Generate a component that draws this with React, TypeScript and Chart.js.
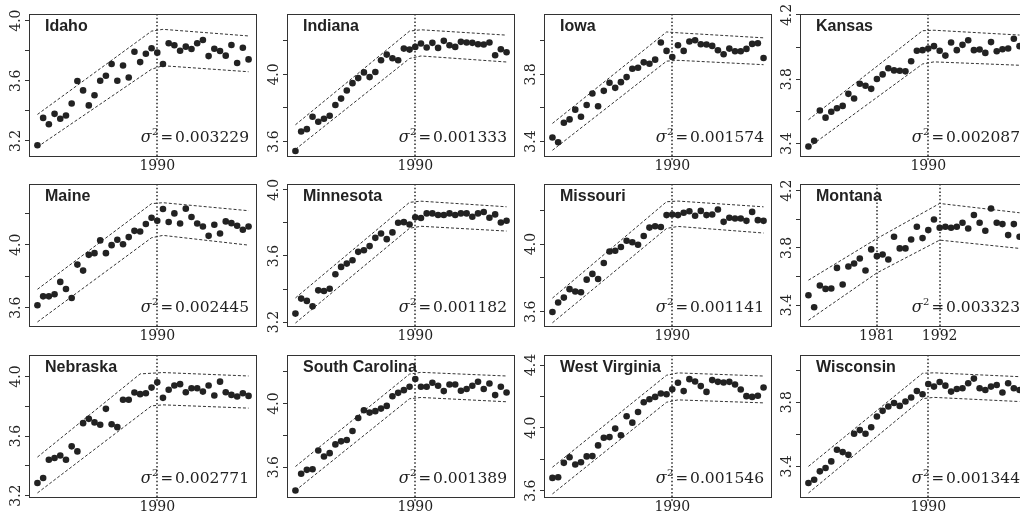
import React, { useEffect, useRef } from 'react';
import { Chart, registerables } from 'chart.js';

Chart.register(...registerables);

const YEARS = [1969, 1970, 1971, 1972, 1973, 1974, 1975, 1976, 1977, 1978, 1979, 1980, 1981, 1982, 1983, 1984, 1985, 1986, 1987, 1988, 1989, 1990, 1991, 1992, 1993, 1994, 1995, 1996, 1997, 1998, 1999, 2000, 2001, 2002, 2003, 2004, 2005, 2006];

const STATE_NAMES = ['Idaho', 'Indiana', 'Iowa', 'Kansas', 'Maine', 'Minnesota', 'Missouri', 'Montana', 'Nebraska', 'South Carolina', 'West Virginia', 'Wisconsin'];
const SIGMA2_LABELS = ['0.003229', '0.001333', '0.001574', '0.002087', '0.002445', '0.001182', '0.001141', '0.003323', '0.002771', '0.001389', '0.001546', '0.001344'];
const BREAK_YEARS = [[1990], [1990], [1990], [1990], [1990], [1990], [1990], [1981, 1992], [1990], [1990], [1990], [1990]];

const IDAHO = [3.171, 3.353, 3.311, 3.380, 3.347, 3.369, 3.449, 3.598, 3.536, 3.436, 3.504, 3.600, 3.633, 3.711, 3.600, 3.702, 3.622, 3.793, 3.724, 3.780, 3.816, 3.787, 3.711, 3.849, 3.836, 3.800, 3.827, 3.811, 3.849, 3.871, 3.764, 3.813, 3.798, 3.767, 3.838, 3.718, 3.820, 3.742];
const INDIANA = [3.544, 3.660, 3.674, 3.748, 3.718, 3.736, 3.754, 3.818, 3.856, 3.904, 3.948, 3.978, 4.012, 3.984, 4.014, 4.084, 4.118, 4.096, 4.084, 4.154, 4.148, 4.164, 4.184, 4.160, 4.188, 4.158, 4.200, 4.174, 4.164, 4.194, 4.190, 4.188, 4.180, 4.178, 4.190, 4.114, 4.150, 4.132];
const IOWA = [3.424, 3.396, 3.512, 3.532, 3.590, 3.548, 3.618, 3.686, 3.610, 3.702, 3.750, 3.720, 3.754, 3.784, 3.834, 3.840, 3.872, 3.864, 3.888, 3.990, 3.940, 3.904, 3.974, 3.940, 3.996, 4.004, 3.980, 3.978, 3.970, 3.944, 3.920, 3.954, 3.938, 3.938, 3.952, 3.982, 3.986, 3.898];
const KANSAS = [3.381, 3.417, 3.605, 3.561, 3.598, 3.619, 3.634, 3.709, 3.680, 3.772, 3.759, 3.740, 3.801, 3.830, 3.868, 3.855, 3.853, 3.849, 3.912, 3.977, 3.981, 3.991, 4.006, 3.977, 3.947, 4.029, 3.981, 4.014, 4.043, 3.981, 3.985, 3.964, 4.031, 3.974, 3.987, 3.991, 4.052, 4.006];
const MAINE = [3.615, 3.672, 3.672, 3.685, 3.764, 3.719, 3.662, 3.874, 3.836, 3.936, 3.947, 4.028, 3.947, 3.998, 4.032, 4.004, 4.049, 4.089, 4.085, 4.132, 4.172, 4.153, 4.228, 4.145, 4.200, 4.136, 4.230, 4.177, 4.136, 4.117, 4.057, 4.128, 4.072, 4.149, 4.138, 4.121, 4.096, 4.117];
const MINNESOTA = [3.251, 3.342, 3.328, 3.295, 3.392, 3.388, 3.402, 3.489, 3.534, 3.554, 3.574, 3.625, 3.635, 3.660, 3.710, 3.736, 3.702, 3.743, 3.801, 3.805, 3.791, 3.834, 3.830, 3.858, 3.858, 3.848, 3.848, 3.858, 3.848, 3.858, 3.858, 3.838, 3.858, 3.866, 3.832, 3.852, 3.803, 3.813];
const MISSOURI = [3.598, 3.654, 3.683, 3.733, 3.719, 3.715, 3.789, 3.823, 3.793, 3.888, 3.956, 3.960, 3.982, 4.019, 4.010, 3.996, 4.047, 4.097, 4.105, 4.101, 4.171, 4.175, 4.171, 4.185, 4.194, 4.167, 4.196, 4.171, 4.175, 4.204, 4.131, 4.155, 4.151, 4.151, 4.137, 4.190, 4.141, 4.137];
const MONTANA = [3.470, 3.386, 3.538, 3.514, 3.517, 3.661, 3.545, 3.671, 3.692, 3.727, 3.643, 3.790, 3.743, 3.755, 3.720, 3.878, 3.797, 3.797, 3.859, 3.948, 3.869, 3.925, 3.999, 3.941, 3.948, 3.941, 3.948, 3.976, 3.936, 4.030, 3.976, 3.920, 4.076, 3.976, 3.967, 3.890, 3.967, 3.878];
const NEBRASKA = [3.285, 3.318, 3.441, 3.453, 3.470, 3.441, 3.531, 3.497, 3.687, 3.716, 3.692, 3.676, 3.783, 3.680, 3.660, 3.844, 3.844, 3.893, 3.882, 3.888, 3.926, 3.962, 3.857, 3.911, 3.940, 3.949, 3.895, 3.922, 3.922, 3.899, 3.940, 3.873, 3.966, 3.895, 3.877, 3.866, 3.888, 3.870];
const SOUTH_CAROLINA = [3.453, 3.558, 3.583, 3.587, 3.705, 3.667, 3.688, 3.743, 3.762, 3.771, 3.827, 3.909, 3.958, 3.943, 3.952, 3.968, 3.985, 4.046, 4.067, 4.084, 4.105, 4.154, 4.105, 4.105, 4.131, 4.112, 4.078, 4.120, 4.120, 4.080, 4.091, 4.112, 4.137, 4.091, 4.126, 4.053, 4.105, 4.069];
const WEST_VIRGINIA = [3.681, 3.685, 3.777, 3.813, 3.766, 3.781, 3.818, 3.820, 3.888, 3.937, 3.941, 3.995, 3.952, 4.074, 4.033, 4.101, 4.163, 4.182, 4.197, 4.219, 4.214, 4.246, 4.287, 4.234, 4.310, 4.295, 4.266, 4.229, 4.304, 4.293, 4.289, 4.293, 4.276, 4.244, 4.202, 4.197, 4.204, 4.257];
const WISCONSIN = [3.296, 3.317, 3.369, 3.390, 3.431, 3.504, 3.489, 3.472, 3.603, 3.626, 3.603, 3.644, 3.711, 3.746, 3.773, 3.795, 3.777, 3.804, 3.829, 3.870, 3.849, 3.913, 3.897, 3.926, 3.903, 3.866, 3.882, 3.887, 3.918, 3.947, 3.887, 3.876, 3.897, 3.907, 3.860, 3.918, 3.887, 3.876];

const SERIES = [IDAHO, INDIANA, IOWA, KANSAS, MAINE, MINNESOTA, MISSOURI, MONTANA, NEBRASKA, SOUTH_CAROLINA, WEST_VIRGINIA, WISCONSIN];

// band lines: [year, value] pairs
const UPPER_BANDS = [
  [[1969, 3.376], [1989, 3.930], [1991, 3.942], [2006, 3.898]],
  [[1969, 3.700], [1989, 4.258], [1991, 4.266], [2006, 4.234]],
  [[1969, 3.508], [1989, 4.053], [1991, 4.048], [2006, 4.018]],
  [[1969, 3.548], [1989, 4.102], [1991, 4.105], [2006, 4.075]],
  [[1969, 3.717], [1989, 4.262], [1991, 4.268], [2006, 4.217]],
  [[1969, 3.346], [1989, 3.925], [1991, 3.932], [2006, 3.898]],
  [[1969, 3.680], [1989, 4.250], [1991, 4.254], [2006, 4.220]],
  [[1969, 3.575], [1981, 3.866], [1992, 4.111], [2006, 4.046]],
  [[1969, 3.459], [1987, 4.018], [1991, 4.027], [2006, 4.004]],
  [[1969, 3.604], [1989, 4.185], [1991, 4.196], [2006, 4.173]],
  [[1969, 3.749], [1989, 4.335], [1991, 4.350], [2006, 4.330]],
  [[1969, 3.400], [1989, 3.980], [1991, 3.983], [2006, 3.959]],
];
const LOWER_BANDS = [
  [[1969, 3.160], [1989, 3.677], [1991, 3.700], [2006, 3.660]],
  [[1969, 3.554], [1989, 4.095], [1991, 4.110], [2006, 4.074]],
  [[1969, 3.348], [1989, 3.879], [1991, 3.884], [2006, 3.858]],
  [[1969, 3.375], [1989, 3.895], [1991, 3.908], [2006, 3.887]],
  [[1969, 3.509], [1989, 4.045], [1991, 4.060], [2006, 3.998]],
  [[1969, 3.194], [1989, 3.768], [1991, 3.780], [2006, 3.751]],
  [[1969, 3.534], [1989, 4.092], [1991, 4.104], [2006, 4.065]],
  [[1969, 3.295], [1981, 3.626], [1992, 3.855], [2006, 3.797]],
  [[1969, 3.218], [1989, 3.803], [1991, 3.810], [2006, 3.788]],
  [[1969, 3.453], [1989, 4.030], [1991, 4.038], [2006, 4.011]],
  [[1969, 3.579], [1989, 4.163], [1991, 4.178], [2006, 4.159]],
  [[1969, 3.234], [1989, 3.822], [1991, 3.830], [2006, 3.804]],
];

const Y_RANGES = [
  [3.093, 4.044], [3.508, 4.360], [3.308, 4.160], [3.316, 4.206],
  [3.477, 4.387], [3.170, 4.036], [3.509, 4.355], [3.248, 4.247],
  [3.184, 4.145], [3.406, 4.305], [3.553, 4.464], [3.203, 4.094],
];
const Y_TICKS = [
  [3.2, 3.4, 3.6, 3.8, 4.0], [3.6, 3.8, 4.0, 4.2], [3.4, 3.6, 3.8, 4.0], [3.4, 3.6, 3.8, 4.0, 4.2],
  [3.6, 3.8, 4.0, 4.2], [3.2, 3.4, 3.6, 3.8, 4.0], [3.6, 3.8, 4.0, 4.2], [3.4, 3.6, 3.8, 4.0, 4.2],
  [3.2, 3.4, 3.6, 3.8, 4.0], [3.6, 3.8, 4.0, 4.2], [3.6, 3.8, 4.0, 4.2, 4.4], [3.4, 3.6, 3.8, 4.0],
];
const Y_TICK_LABELS = [
  ['3.2', '', '3.6', '', '4.0'], ['3.6', '', '4.0', ''], ['3.4', '', '3.8', ''], ['3.4', '', '3.8', '', '4.2'],
  ['3.6', '', '4.0', ''], ['3.2', '', '3.6', '', '4.0'], ['3.6', '', '4.0', ''], ['3.4', '', '3.8', '', '4.2'],
  ['3.2', '', '3.6', '', '4.0'], ['3.6', '', '4.0', ''], ['3.6', '', '4.0', '', '4.4'], ['3.4', '', '3.8', ''],
];
const X_RANGE = [1967.52, 2007.48];

// layout (pixels)
const PLOT_LEFT = [29, 287, 544, 800];
const PLOT_TOP = [14, 184, 355];
const PLOT_W = 229;
const PLOT_H = 143;
const M_LEFT = 29;
const M_TOP = 14;
const M_RIGHT = 3;
const M_BOTTOM = 22;

const INK = '#222222';
const SERIF = '"DejaVu Serif", serif';
const SANS = '"Liberation Sans", Arial, sans-serif';

function Panel({ idx }: { idx: number }) {
  const ref = useRef<HTMLCanvasElement | null>(null);
  const col = idx % 4;
  const row = Math.floor(idx / 4);
  const cw = M_LEFT + PLOT_W + M_RIGHT;
  const ch = M_TOP + PLOT_H + M_BOTTOM;

  useEffect(() => {
    const canvas = ref.current;
    if (!canvas) return;
    const values = SERIES[idx];
    const pts = YEARS.map((y, i) => ({ x: y, y: values[i] }));
    const up = UPPER_BANDS[idx].map(([x, y]) => ({ x, y }));
    const lo = LOWER_BANDS[idx].map(([x, y]) => ({ x, y }));
    const breaks = BREAK_YEARS[idx];
    const yTicks = Y_TICKS[idx];
    const yLabels = Y_TICK_LABELS[idx];

    const decor = {
      id: 'decor' + idx,
      beforeDatasetsDraw(chart: any) {
        const { ctx, chartArea } = chart;
        const xs = chart.scales.x;
        ctx.save();
        ctx.strokeStyle = '#2a2a2a';
        ctx.lineWidth = 1.5;
        ctx.setLineDash([1.5, 2.2]);
        breaks.forEach((b) => {
          const px = Math.round(xs.getPixelForValue(b));
          ctx.beginPath();
          ctx.moveTo(px, chartArea.top);
          ctx.lineTo(px, chartArea.bottom + 5);
          ctx.stroke();
        });
        ctx.restore();
      },
      afterDraw(chart: any) {
        const { ctx, chartArea } = chart;
        const ys = chart.scales.y;
        ctx.save();
        // frame
        ctx.strokeStyle = '#333';
        ctx.lineWidth = 1;
        ctx.setLineDash([]);
        ctx.strokeRect(chartArea.left + 0.5, chartArea.top + 0.5, chartArea.right - chartArea.left - 1, chartArea.bottom - chartArea.top - 1);
        // rotated y labels
        ctx.fillStyle = '#222';
        ctx.font = '14px ' + SERIF;
        ctx.textAlign = 'center';
        ctx.textBaseline = 'middle';
        ys.ticks.forEach((t: any, i: number) => {
          const lab = yLabels[i];
          if (!lab) return;
          const py = ys.getPixelForValue(t.value);
          ctx.save();
          ctx.translate(chartArea.left - 13, py);
          ctx.rotate(-Math.PI / 2);
          ctx.fillText(lab, 0, 0);
          ctx.restore();
        });
        // state name
        ctx.font = 'bold 16px ' + SANS;
        ctx.textAlign = 'left';
        ctx.textBaseline = 'alphabetic';
        ctx.fillStyle = '#222';
        ctx.fillText(STATE_NAMES[idx], chartArea.left + 16, chartArea.top + 17);
        // sigma^2 annotation
        let x = chartArea.right - 8;
        const base = chartArea.bottom - 15;
        ctx.textAlign = 'right';
        ctx.font = '15.5px ' + SERIF;
        ctx.fillText(SIGMA2_LABELS[idx], x, base);
        x -= ctx.measureText(SIGMA2_LABELS[idx]).width + 2;
        ctx.font = '15px ' + SERIF;
        ctx.fillText('=', x, base);
        x -= ctx.measureText('=').width + 2;
        ctx.font = '10px ' + SERIF;
        ctx.fillText('2', x, base - 7);
        x -= ctx.measureText('2').width + 0.5;
        ctx.font = 'italic 16px ' + SERIF;
        ctx.fillText('σ', x, base);
        ctx.restore();
      },
    };

    const chart = new Chart(canvas, {
      type: 'scatter',
      data: {
        datasets: [
          {
            data: pts,
            pointRadius: 3.3,
            pointBackgroundColor: INK,
            pointBorderColor: INK,
            pointBorderWidth: 0,
            showLine: false,
          },
          {
            data: up,
            showLine: true,
            borderColor: '#333',
            borderWidth: 1,
            borderDash: [3, 2],
            pointRadius: 0,
            fill: false,
          },
          {
            data: lo,
            showLine: true,
            borderColor: '#333',
            borderWidth: 1,
            borderDash: [3, 2],
            pointRadius: 0,
            fill: false,
          },
        ],
      },
      options: {
        responsive: false,
        animation: false,
        devicePixelRatio: 1,
        layout: { padding: { left: 0, top: M_TOP, right: M_RIGHT, bottom: 0 } },
        plugins: { legend: { display: false }, tooltip: { enabled: false } },
        scales: {
          x: {
            type: 'linear',
            min: X_RANGE[0],
            max: X_RANGE[1],
            afterBuildTicks: (s: any) => {
              s.ticks = breaks.map((v) => ({ value: v }));
            },
            afterFit: (s: any) => {
              s.height = M_BOTTOM;
            },
            grid: { display: false, drawTicks: false },
            border: { display: false },
            ticks: {
              autoSkip: false,
              maxRotation: 0,
              minRotation: 0,
              padding: 1,
              color: '#222',
              font: { family: SERIF, size: 14 },
              callback: (v: any) => String(v),
            },
          },
          y: {
            type: 'linear',
            min: Y_RANGES[idx][0],
            max: Y_RANGES[idx][1],
            afterBuildTicks: (s: any) => {
              s.ticks = yTicks.map((v) => ({ value: v }));
            },
            afterFit: (s: any) => {
              s.width = M_LEFT;
            },
            grid: { display: true, drawOnChartArea: false, drawTicks: true, tickLength: 4, color: '#333', lineWidth: 1 },
            border: { display: false },
            ticks: { display: false },
          },
        },
      },
      plugins: [decor],
    } as any);
    return () => chart.destroy();
  }, [idx]);

  return (
    <canvas
      ref={ref}
      width={cw}
      height={ch}
      style={{
        position: 'absolute',
        left: PLOT_LEFT[col] - M_LEFT,
        top: PLOT_TOP[row] - M_TOP,
        width: cw,
        height: ch,
      }}
    />
  );
}

export default function App() {
  return (
    <div
      style={{
        position: 'fixed',
        left: 0,
        top: 0,
        width: 1020,
        height: 522,
        overflow: 'hidden',
        background: '#fff',
      }}
    >
      {STATE_NAMES.map((_, i) => (
        <Panel key={i} idx={i} />
      ))}
    </div>
  );
}
